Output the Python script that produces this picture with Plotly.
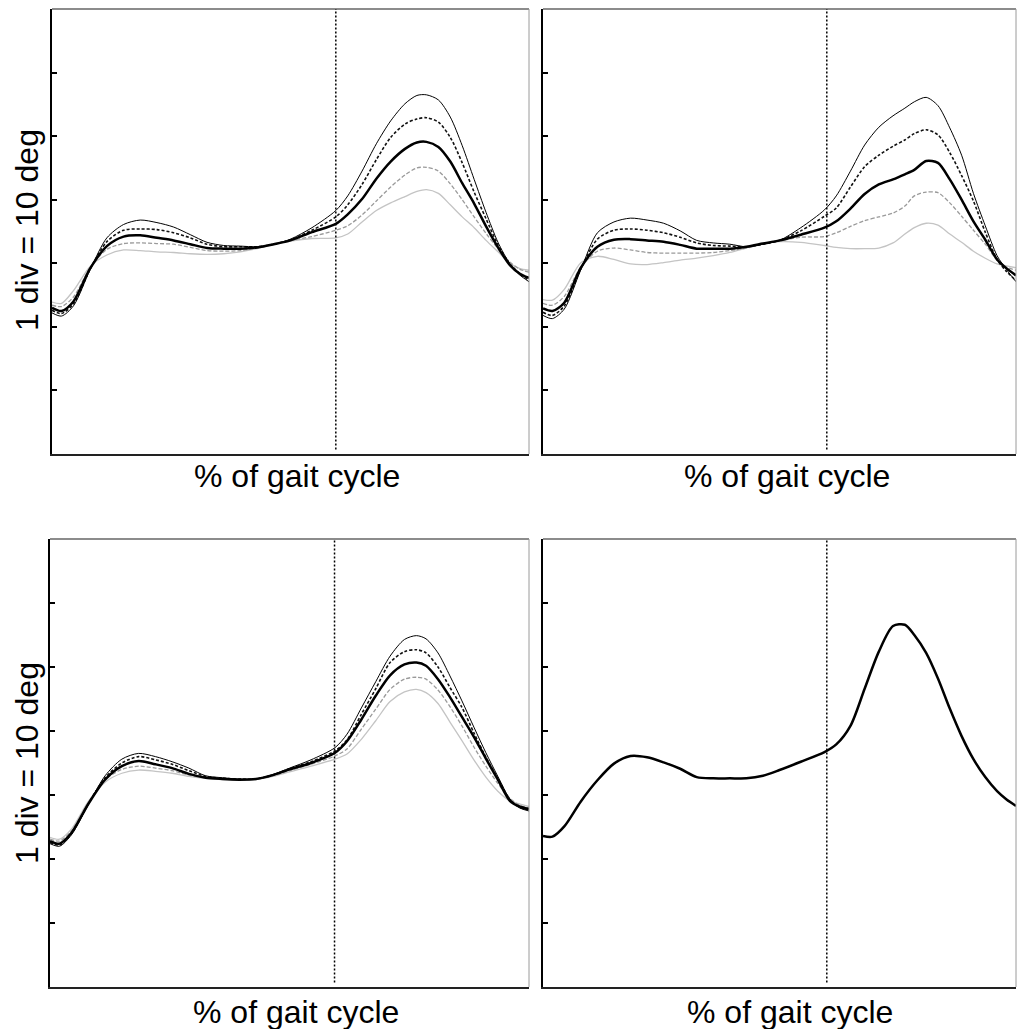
import plotly.graph_objects as go

W, H = 1017, 1029

# ---------------- data (deg; 1 div = 10 deg) ----------------
gait_pct = [0, 2, 4.5, 8, 11.5, 15, 18.5, 22, 25.5, 29, 32.5, 36, 39.5, 43, 46.5, 50,
            54.5, 59.5, 62, 65, 68, 71, 74, 76.5, 78.5, 81, 83.5, 86, 88.5, 91, 93.5, 96, 98, 100]

# top-left panel
tl_thin = [-7.8, -8.3, -6.7, -1.0, 4.0, 6.1, 6.8, 6.4, 5.7, 4.5, 3.3, 2.8, 2.7, 2.6, 3.0, 3.8,
           5.6, 8.3, 10.6, 14.5, 18.8, 22.4, 25.1, 26.4, 26.5, 25.7, 23.0, 18.5, 13.2, 8.0, 3.3, -0.1, -1.8, -2.9]
tl_dot = [-7.4, -7.9, -6.4, -0.9, 3.4, 5.2, 5.4, 5.3, 4.8, 4.0, 3.0, 2.6, 2.6, 2.6, 3.0, 3.7,
          5.2, 7.3, 9.2, 12.4, 16.3, 19.8, 21.9, 22.7, 22.9, 22.2, 19.8, 15.8, 11.2, 7.0, 2.9, -0.1, -1.6, -2.7]
tl_thick = [-7.0, -7.5, -6.0, -0.8, 2.7, 4.2, 4.4, 4.0, 3.6, 3.0, 2.4, 2.3, 2.3, 2.5, 3.0, 3.6,
            4.9, 6.2, 7.7, 10.1, 13.3, 16.0, 18.0, 19.0, 19.1, 18.3, 16.0, 12.6, 9.4, 5.8, 2.5, -0.3, -1.6, -2.3]
tl_dash = [-6.6, -6.8, -5.3, -0.7, 2.2, 3.1, 3.2, 3.1, 3.0, 2.5, 2.0, 1.9, 2.0, 2.4, 3.0, 3.6,
           4.2, 5.2, 5.9, 7.6, 9.8, 12.0, 13.9, 15.0, 15.1, 14.5, 12.5, 10.0, 7.3, 4.7, 2.3, 0.2, -0.9, -1.4]
tl_light = [-6.1, -6.3, -4.3, -0.5, 1.3, 2.1, 2.0, 1.8, 1.7, 1.5, 1.4, 1.5, 1.8, 2.3, 3.0, 3.5,
            3.9, 4.0, 4.6, 6.5, 8.3, 9.5, 10.5, 11.3, 11.6, 11.0, 9.2, 7.3, 5.6, 3.6, 1.8, 0.0, -0.8, -1.1]

# top-right panel
tr_thin = [-8.2, -8.7, -7.2, -1.0, 4.8, 6.5, 7.1, 6.8, 6.3, 5.1, 3.6, 3.2, 3.0, 2.6, 3.0, 3.6,
           5.6, 8.4, 10.6, 14.5, 18.6, 21.4, 23.2, 24.4, 25.4, 26.1, 24.8, 21.3, 17.0, 11.0, 5.9, 1.2, -1.0, -2.9]
tr_dot = [-7.7, -8.2, -6.7, -0.9, 3.8, 5.2, 5.4, 5.2, 4.8, 4.1, 3.2, 2.8, 2.7, 2.6, 3.0, 3.6,
          5.1, 7.4, 8.7, 12.0, 15.2, 17.0, 18.4, 19.4, 20.4, 21.0, 20.2, 17.4, 13.8, 9.8, 4.9, 0.6, -1.3, -2.7]
tr_thick = [-7.1, -7.5, -6.2, -0.7, 2.6, 3.7, 3.8, 3.6, 3.4, 2.9, 2.3, 2.3, 2.3, 2.6, 3.1, 3.6,
            4.5, 5.6, 6.6, 8.6, 10.9, 12.4, 13.2, 14.0, 14.7, 16.1, 15.8, 13.2, 10.0, 6.6, 3.7, 0.6, -0.8, -1.9]
tr_dash = [-6.3, -6.6, -5.2, -0.6, 1.9, 2.4, 2.1, 1.7, 1.6, 1.6, 1.6, 1.7, 2.0, 2.4, 3.0, 3.5,
           4.1, 4.2, 4.8, 5.8, 6.7, 7.3, 7.9, 9.0, 10.6, 11.2, 11.1, 9.5, 7.4, 5.2, 3.0, 0.5, -0.6, -1.1]
tr_light = [-5.7, -5.8, -4.1, 0.1, 1.1, 0.6, -0.1, -0.2, 0.1, 0.5, 0.8, 1.2, 1.7, 2.4, 3.1, 3.4,
            3.3, 2.8, 2.5, 2.3, 2.3, 2.4, 3.2, 4.6, 5.6, 6.3, 6.0, 4.6, 3.3, 1.9, 0.8, -0.1, -0.4, -0.7]

# bottom-left panel
bl_thin = [-7.6, -8.0, -6.2, -1.5, 3.0, 5.6, 6.5, 6.0, 5.2, 4.2, 3.0, 2.7, 2.5, 2.5, 3.2, 4.2,
           5.5, 7.4, 9.5, 13.6, 17.7, 21.7, 24.3, 24.9, 24.4, 22.2, 18.6, 14.7, 10.6, 6.6, 2.9, -0.6, -2.0, -2.5]
bl_dot = [-7.4, -7.8, -6.0, -1.4, 2.7, 5.0, 6.0, 5.5, 4.8, 3.8, 2.9, 2.6, 2.5, 2.5, 3.1, 4.1,
          5.2, 6.9, 8.6, 12.6, 16.6, 20.7, 22.4, 22.7, 22.2, 20.0, 16.8, 13.7, 9.7, 5.9, 2.6, -0.7, -1.9, -2.3]
bl_thick = [-7.2, -7.6, -5.9, -1.4, 2.4, 4.5, 5.3, 4.8, 4.2, 3.3, 2.7, 2.5, 2.4, 2.5, 3.1, 4.0,
            5.0, 6.6, 8.4, 11.8, 15.5, 18.7, 20.4, 20.7, 20.2, 18.1, 15.3, 12.2, 9.1, 5.7, 2.4, -0.9, -1.8, -2.2]
bl_dash = [-6.9, -7.2, -5.6, -1.2, 2.4, 4.0, 4.5, 4.2, 3.8, 3.1, 2.7, 2.5, 2.4, 2.5, 3.0, 3.8,
           4.8, 6.1, 7.2, 10.3, 13.4, 16.5, 18.1, 18.4, 18.1, 16.4, 13.8, 10.8, 7.5, 4.5, 1.8, -0.5, -1.6, -2.0]
bl_light = [-6.6, -6.9, -5.3, -1.0, 2.0, 3.4, 3.9, 3.7, 3.4, 2.9, 2.6, 2.4, 2.3, 2.4, 2.9, 3.6,
            4.5, 5.6, 6.4, 8.7, 11.6, 14.6, 16.1, 16.5, 16.0, 14.3, 11.4, 8.5, 5.5, 2.8, 0.6, -0.9, -1.4, -1.8]

# bottom-right panel (single curve)
br_curve = [-6.4, -6.5, -4.9, -1.0, 2.3, 4.9, 6.1, 5.9, 5.1, 4.1, 2.8, 2.6, 2.6, 2.6, 3.0, 3.9,
            5.2, 6.7, 7.9, 10.8, 16.6, 22.4, 26.4, 26.6, 25.0, 22.2, 18.2, 13.5, 9.2, 5.6, 2.8, 0.6, -0.7, -1.7]

# toe-off (% of gait cycle) per panel
toe_off = [59.5, 60.0, 59.4, 60.0]

y_ticks = [-20, -10, 0, 10, 20, 30]
y_range = [-30, 40]
x_title = "% of gait cycle"
y_title = "1 div = 10 deg"

# ---------------- styles ----------------
STYLE = {
    "light": dict(color="#c4c4c4", width=1.3),
    "dash": dict(color="#9a9a9a", width=1.3, dash="4px,2px"),
    "dot": dict(color="#111111", width=1.6, dash="3px,2px"),
    "thin": dict(color="#000000", width=1.0),
    "thick": dict(color="#000000", width=2.5),
}

panels = [
    dict(series=[("light", tl_light), ("dash", tl_dash), ("dot", tl_dot), ("thin", tl_thin), ("thick", tl_thick)],
         px=(52, 529), py=(9, 454)),
    dict(series=[("light", tr_light), ("dash", tr_dash), ("dot", tr_dot), ("thin", tr_thin), ("thick", tr_thick)],
         px=(543, 1016), py=(9, 454)),
    dict(series=[("light", bl_light), ("dash", bl_dash), ("dot", bl_dot), ("thin", bl_thin), ("thick", bl_thick)],
         px=(50, 529), py=(539, 987)),
    dict(series=[("thick", br_curve)],
         px=(543, 1016), py=(539, 987)),
]

fig = go.Figure()
FONT = "Arial, Liberation Sans, sans-serif"
shapes = []
annotations = []
layout = {}

for i, p in enumerate(panels):
    n = "" if i == 0 else str(i + 1)
    xa, ya = "x" + n, "y" + n
    for key, vals in p["series"]:
        fig.add_trace(go.Scatter(x=gait_pct, y=vals, mode="lines",
                                 line=dict(shape="spline", smoothing=0.8, **STYLE[key]),
                                 xaxis=xa, yaxis=ya, showlegend=False, hoverinfo="skip"))
    x0, x1 = p["px"]
    y0, y1 = p["py"]
    layout["xaxis" + n] = dict(domain=[x0 / W, x1 / W], range=[0, 100], anchor=ya,
                               showgrid=False, zeroline=False, showticklabels=False, ticks="",
                               showline=True, linecolor="#222222", linewidth=1.5)
    layout["yaxis" + n] = dict(domain=[1 - y1 / H, 1 - y0 / H], range=y_range, anchor=xa,
                               showgrid=False, zeroline=False, showticklabels=False,
                               tickvals=y_ticks, ticks="inside", ticklen=5, tickwidth=1.5, tickcolor="#000",
                               showline=True, linecolor="#000000", linewidth=2)
    # top and right frame
    shapes.append(dict(type="line", xref=xa + " domain", yref=ya + " domain", x0=0, x1=1, y0=1, y1=1,
                       line=dict(color="#666666", width=1.5)))
    shapes.append(dict(type="line", xref=xa + " domain", yref=ya + " domain", x0=1, x1=1, y0=0, y1=1,
                       line=dict(color="#9a9a9a", width=1)))
    # toe-off dotted line
    shapes.append(dict(type="line", xref=xa, yref=ya + " domain", x0=toe_off[i], x1=toe_off[i], y0=0.01, y1=1,
                       line=dict(color="#000000", width=1.5, dash="2px,2px")))

# titles
for cx, cy in [(297, 476), (787, 476), (296, 1012), (790, 1012)]:
    annotations.append(dict(text=x_title, x=cx / W, y=1 - cy / H, xref="paper", yref="paper",
                            xanchor="center", yanchor="middle", showarrow=False,
                            font=dict(family=FONT, size=32, color="#000")))
for cy in [230, 763]:
    annotations.append(dict(text=y_title, x=27 / W, y=1 - cy / H, xref="paper", yref="paper",
                            xanchor="center", yanchor="middle", textangle=-90, showarrow=False,
                            font=dict(family=FONT, size=32, color="#000")))

fig.update_layout(width=W, height=H, margin=dict(l=0, r=0, t=0, b=0),
                  paper_bgcolor="white", plot_bgcolor="white",
                  shapes=shapes, annotations=annotations, **layout)

fig.write_html("out.html")
